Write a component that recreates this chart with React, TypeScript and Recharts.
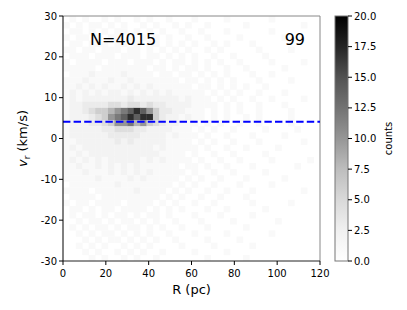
import React from "react";
import { ScatterChart, Scatter, XAxis, YAxis, ReferenceLine } from "recharts";

// ---- data ----
const X_TICKS = [0, 20, 40, 60, 80, 100, 120];
const Y_TICKS = [-30, -20, -10, 0, 10, 20, 30];
const CBAR_TICKS = [0, 2.5, 5, 7.5, 10, 12.5, 15, 17.5, 20];
const MEAN_VR = 4.1;
const N_LABEL = "N=4015";
const ID_LABEL = "99";
// grid: columns R = 0..120 step 3 pc, rows v = 30..-30 step 1.5 km/s (top to bottom)
const R_STEP = 3;
const V_STEP = 1.5;
const LEVEL_COUNTS: Record<string, number> = {
  "0": 0, "1": 1, "2": 2, "3": 3, "4": 4.5, "5": 6, "6": 8, "7": 10, "8": 12, "9": 14, X: 17,
};
const DENSITY_ROWS = [
  "0101001010010100100010000100000010000000",
  "1010110101001010010100100000100000000100",
  "0110101011010101001001000100000010000000",
  "1011010110101010100100100001000000100000",
  "0110111011010110101010010100010000000000",
  "1101101110110101010100101000001000010000",
  "0111011101110110101010010010000100000000",
  "1011110111011101011010101001000010000100",
  "1111101111111011010110100100100000100000",
  "0111211112111101101101010100010010000000",
  "1112111211211111110110101010001000010000",
  "1121212112121211111101101010100100000000",
  "1212121221212121211111010101001000100000",
  "1212222222322222221211101010010010000100",
  "1223333443443433222211110101001000100000",
  "1223455" + "6789X97" + "533221" + "11010101001000010000",
  "1222345" + "789X9XX5" + "32212" + "11010100101000010000",
  "12223345" + "77867543" + "2211" + "10101001001000010000",
  "12222233444332222111" + "01010010000100001000",
  "12222223333322221211" + "10100100010000100000",
  "11222222323222221111" + "01010010001000000100",
  "12122222222222121111" + "10100100100001000000",
  "11212222222222211110" + "10010010000100000000",
  "12121212222212121111" + "01001001000010000010",
  "11211212121211111101" + "10100100010000001000",
  "11121112121212111110" + "10010010000100000000",
  "11111211112121111101" + "01001000100000100000",
  "01111111211111111010" + "10010001000010000000",
  "11110111111211110101" + "00100100010000000100",
  "01111011111111101010" + "01001000100000000000",
  "10110111101111010100" + "10010000010000010000",
  "01101011011110101010" + "00100100000100000000",
  "01011010110101101000" + "10001000010000000000",
  "00101101011010100100" + "01000010000001000000",
  "01010110101101010010" + "00100000100000000000",
  "00101011010101001000" + "10000100000010000000",
  "00010101101010100100" + "00100001000000000000",
  "00101010010101000010" + "00010000010000000000",
  "00010100101010010000" + "10000100000000000000",
  "00001010010100100000" + "00100000100000000000",
];

// ---- layout ----
const W = 391;
const H = 294;
const PL = 55, PT = 8, PR = 312, PB = 253;
const CELL_W = ((PR - PL) / 120) * R_STEP;
const CELL_H = ((PB - PT) / 60) * V_STEP;
const VMAX = 20;
const GREYS = ["#ffffff", "#f0f0f0", "#d9d9d9", "#bdbdbd", "#969696", "#737373", "#525252", "#252525", "#000000"];

function hexToRgb(h: string) {
  return [parseInt(h.slice(1, 3), 16), parseInt(h.slice(3, 5), 16), parseInt(h.slice(5, 7), 16)];
}
function greys(t: number) {
  const tt = Math.max(0, Math.min(1, t)) * (GREYS.length - 1);
  const i = Math.min(GREYS.length - 2, Math.floor(tt));
  const f = tt - i;
  const a = hexToRgb(GREYS[i]);
  const b = hexToRgb(GREYS[i + 1]);
  const c = a.map((v, k) => Math.round(v + (b[k] - v) * f));
  return `rgb(${c[0]},${c[1]},${c[2]})`;
}

const cells: { r: number; v: number; c: number }[] = [];
DENSITY_ROWS.forEach((row, i) => {
  row.split("").forEach((ch, j) => {
    const c = LEVEL_COUNTS[ch] ?? 0;
    if (c > 0) cells.push({ r: j * R_STEP + R_STEP / 2, v: 30 - i * V_STEP - V_STEP / 2, c });
  });
});

const Cell = (props: any) => {
  const { cx, cy, payload } = props;
  if (cx == null || cy == null) return null;
  return (
    <rect
      x={cx - CELL_W / 2}
      y={cy - CELL_H / 2}
      width={CELL_W + 0.3}
      height={CELL_H + 0.3}
      fill={greys(payload.c / VMAX)}
      stroke="none"
    />
  );
};

const FONT = "DejaVu Sans, sans-serif";
const MARGIN = { top: PT, right: W - PR, bottom: 0, left: 0 };

export default function App() {
  const cbX = 327, cbW = 13;
  const cbY = (v: number) => PB - (v / VMAX) * (PB - PT);
  const tickStyle = { fill: "#000", fontSize: 10, fontFamily: FONT };
  return (
    <div style={{ position: "relative", width: W, height: H, fontFamily: FONT }}>
      {/* density layer */}
      <div style={{ position: "absolute", left: 0, top: 0 }}>
        <ScatterChart width={W} height={H} margin={MARGIN}>
          <XAxis type="number" dataKey="r" domain={[0, 120]} ticks={X_TICKS} allowDataOverflow height={H - PB} tick={false} axisLine={false} tickLine={false} />
          <YAxis type="number" dataKey="v" domain={[-30, 30]} ticks={Y_TICKS} allowDataOverflow width={PL} tick={false} axisLine={false} tickLine={false} />
          <Scatter data={cells} shape={Cell} isAnimationActive={false} />
        </ScatterChart>
      </div>
      {/* axes + reference line layer */}
      <div style={{ position: "absolute", left: 0, top: 0 }}>
        <ScatterChart width={W} height={H} margin={MARGIN}>
          <XAxis
            type="number"
            dataKey="r"
            domain={[0, 120]}
            ticks={X_TICKS}
            allowDataOverflow
            height={H - PB}
            tickSize={4}
            tickMargin={5}
            tickLine={{ stroke: "#000" }}
            axisLine={{ stroke: "#222" }}
            tick={tickStyle}
          />
          <YAxis
            type="number"
            dataKey="v"
            domain={[-30, 30]}
            ticks={Y_TICKS}
            allowDataOverflow
            width={PL}
            tickSize={4}
            tickLine={{ stroke: "#000" }}
            axisLine={{ stroke: "#000" }}
            tick={tickStyle}
          />
          <Scatter data={[]} isAnimationActive={false} />
          <ReferenceLine y={30} stroke="#888" strokeWidth={1} />
          <ReferenceLine x={120} stroke="#888" strokeWidth={1} />
          <ReferenceLine y={MEAN_VR} stroke="#0000ff" strokeWidth={2} strokeDasharray="7.4 3.2" />
        </ScatterChart>
      </div>
      <svg width={W} height={H} style={{ position: "absolute", left: 0, top: 0, pointerEvents: "none" }}>
        <defs>
          <linearGradient id="cbar" x1="0" y1="0" x2="0" y2="1">
            {GREYS.slice().reverse().map((c, i) => (
              <stop key={i} offset={i / (GREYS.length - 1)} stopColor={c} />
            ))}
          </linearGradient>
        </defs>
        <text x={82} y={36.5} fontSize={16} fontFamily={FONT} fill="#000">{N_LABEL}</text>
        <text x={297} y={36.5} fontSize={16} fontFamily={FONT} fill="#000" textAnchor="end">{ID_LABEL}</text>
        <text x={(PL + PR) / 2} y={286} fontSize={13} fontFamily={FONT} fill="#000" textAnchor="middle">R (pc)</text>
        <text
          transform={`translate(19, ${(PT + PB) / 2}) rotate(-90)`}
          fontSize={13}
          fontFamily={FONT}
          fill="#000"
          textAnchor="middle"
        >
          <tspan fontStyle="italic">v</tspan>
          <tspan fontSize={9} dy={3}>r</tspan>
          <tspan dy={-3}> (km/s)</tspan>
        </text>
        <rect x={cbX} y={PT} width={cbW} height={PB - PT} fill="url(#cbar)" stroke="#777" strokeWidth={1} />
        {CBAR_TICKS.map((t) => (
          <g key={t}>
            <line x1={cbX + cbW} x2={cbX + cbW + 4} y1={cbY(t)} y2={cbY(t)} stroke="#000" />
            <text x={cbX + cbW + 6} y={cbY(t) + 3.6} fontSize={10} fontFamily={FONT} fill="#000">
              {t.toFixed(1)}
            </text>
          </g>
        ))}
        <text
          transform={`translate(384, ${(PT + PB) / 2}) rotate(-90)`}
          fontSize={10}
          fontFamily={FONT}
          fill="#000"
          textAnchor="middle"
        >
          counts
        </text>
      </svg>
    </div>
  );
}
